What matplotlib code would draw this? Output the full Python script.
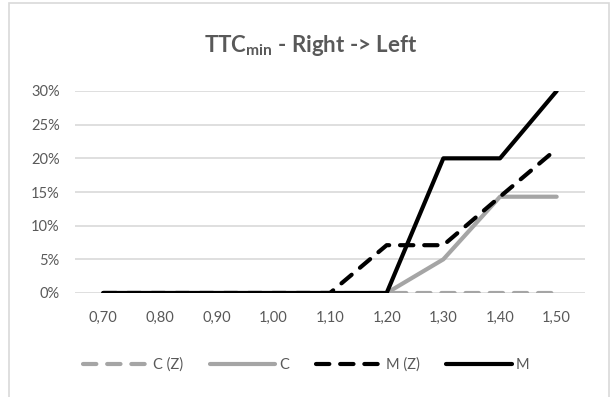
import numpy as np
import matplotlib.pyplot as plt
from matplotlib.patches import Rectangle

# данные
x_labels = ["0,70", "0,80", "0,90", "1,00", "1,10", "1,20", "1,30", "1,40", "1,50"]
c_z = [0, 0, 0, 0, 0, 0, 0, 0, 0]
c = [0, 0, 0, 0, 0, 0, 0.05, 0.143, 0.143]
m_z = [0, 0, 0, 0, 0, 0.071, 0.071, 0.143, 0.214]
m = [0, 0, 0, 0, 0, 0, 0.20, 0.20, 0.30]
y_ticks = [0, 0.05, 0.10, 0.15, 0.20, 0.25, 0.30]

txt = "#595959"
grid = "#D9D9D9"
gray = "#A5A5A5"
black = "#000000"
plt.rcParams['font.family'] = ['Lato', 'DejaVu Sans']

fig = plt.figure(figsize=(6.13, 3.97), dpi=100)
ax = fig.add_axes([75 / 613, 1 - 293 / 397, 510 / 613, 202 / 397])

# рамка области диаграммы
fig.patches.append(Rectangle((9 / 613, -0.1), 600 / 613, 1.1 - 3 / 397,
                             transform=fig.transFigure, fill=False,
                             edgecolor=grid, linewidth=1.2))

x = np.arange(len(x_labels))
lw = 3.0
dash = (3.2, 2.6)
ax.plot(x, c_z, color=gray, lw=lw, dashes=dash, dash_capstyle='round',
        label="C (Z)")
ax.plot(x, c, color=gray, lw=lw, solid_capstyle='round', label="C")
ax.plot(x, m_z, color=black, lw=lw, dashes=dash, dash_capstyle='round',
        label="M (Z)")
ax.plot(x, m, color=black, lw=lw, solid_capstyle='round', label="M")

ax.set_xlim(-0.5, len(x_labels) - 0.5)
ax.set_ylim(0, 0.3)
ax.set_xticks(x)
ax.set_xticklabels(x_labels)
ax.set_yticks(y_ticks)
ax.set_yticklabels([f"{int(round(v * 100))}%" for v in y_ticks])
ax.tick_params(length=0, labelsize=10.5, colors=txt)
ax.tick_params(axis='x', pad=13)
ax.tick_params(axis='y', pad=11)
for s in ax.spines.values():
    s.set_visible(False)
ax.yaxis.grid(True, color=grid, lw=1.2)
ax.set_axisbelow(True)

fig.text(311 / 613, 1 - 46 / 397, r"TTC$_{\mathregular{min}}$ - Right -> Left",
         ha='center', va='center', fontsize=16, fontweight='bold', color=txt)

fig.legend(loc='center', bbox_to_anchor=(0.5, 1 - 365 / 397), ncol=4,
           frameon=False, fontsize=10.5, labelcolor=txt, handlelength=4.5,
           handletextpad=0.3, columnspacing=1.8)

fig.savefig("out.png", dpi=100)
